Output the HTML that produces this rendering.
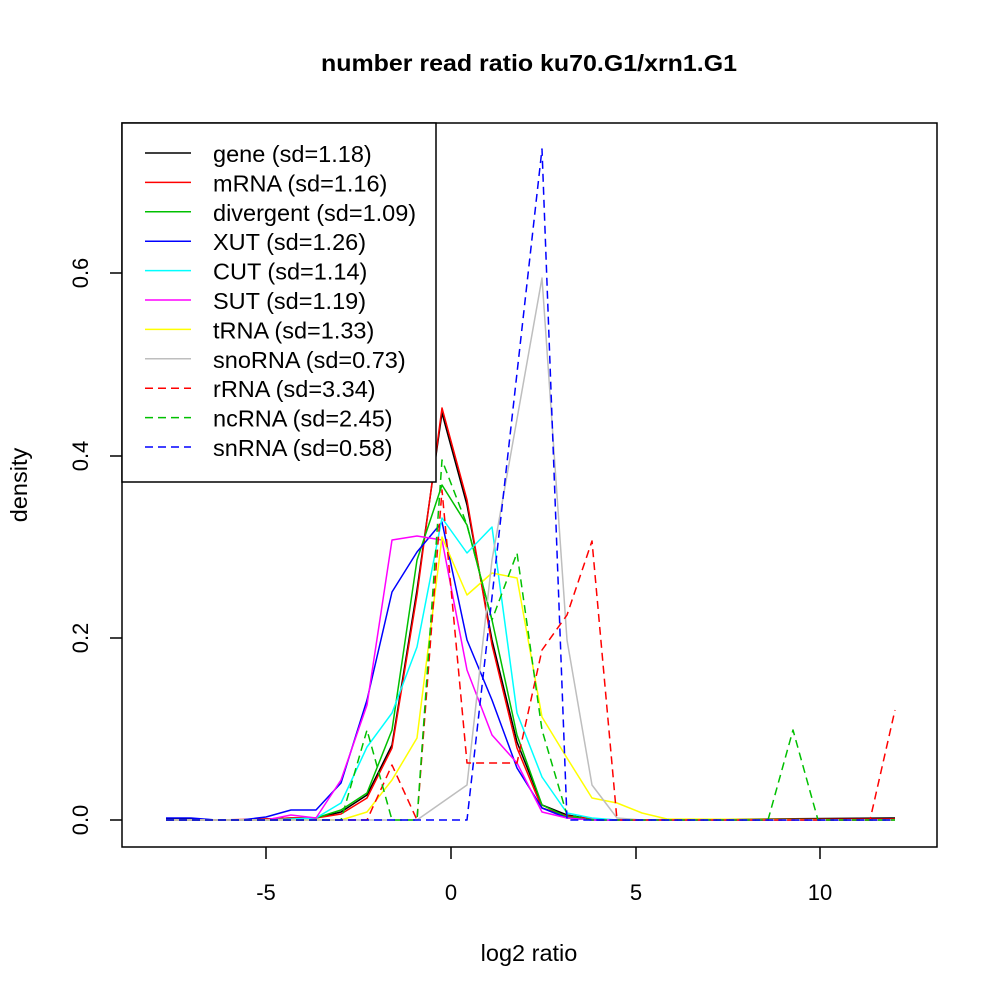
<!DOCTYPE html>
<html><head><style>html,body{margin:0;padding:0;background:#fff}</style></head>
<body>
<svg width="1000" height="1000" viewBox="0 0 1000 1000" xmlns="http://www.w3.org/2000/svg" font-family="Liberation Sans, sans-serif">
<rect width="1000" height="1000" fill="#fff"/>
<text x="529" y="71" font-size="23" font-weight="bold" text-anchor="middle" textLength="416" lengthAdjust="spacingAndGlyphs">number read ratio ku70.G1/xrn1.G1</text>
<g fill="none" stroke-width="1.5" stroke-linejoin="round">
<polyline stroke="#000" points="166,819 191,819 216,820 241,820 266,819 291,818 316,818 341,812 367,795 392,745 417,590 442,413 467,505 492,640 517,742 542,805 567,815 592,819 617,820 895,818"/>
<polyline stroke="#f00" points="166,820 216,820 266,819 291,818 316,818 341,814 367,798 392,748 417,595 442,408 467,500 492,645 517,748 542,808 567,816 592,819 617,820 895,819"/>
<polyline stroke="#00c000" points="166,820 266,820 316,818 341,810 367,793 392,730 417,560 442,485 467,525 492,620 517,735 542,805 567,817 592,820 895,820"/>
<polyline stroke="#00f" points="166,818 191,818 216,820 241,820 266,817 291,810 316,810 341,783 367,700 392,592 417,552 442,522 467,640 492,700 517,768 542,808 567,818 592,820 895,820"/>
<polyline stroke="#0ff" points="166,820 266,820 316,818 341,803 367,747 392,713 417,647 442,518 467,553 492,527 517,713 542,777 567,813 592,818 617,820 895,820"/>
<polyline stroke="#f0f" points="166,820 266,820 291,815 316,818 341,780 367,705 392,540 417,536 442,540 467,670 492,735 517,763 542,812 567,818 592,820 895,820"/>
<polyline stroke="#ff0" points="166,820 341,820 367,812 392,780 417,738 442,537 467,595 492,573 517,578 542,717 567,758 592,798 617,803 642,813 667,819 895,820"/>
<polyline stroke="#bebebe" points="166,820 417,820 467,785 492,560 542,278 567,640 592,785 617,818 642,820 895,820"/>
<g stroke-dasharray="8,5">
<polyline stroke="#f00" points="166,820 367,820 392,765 417,820 442,490 467,763 492,763 517,763 542,650 567,615 592,541 617,820 870,820 895,710"/>
<polyline stroke="#00c000" points="166,820 341,820 367,730 392,820 417,820 442,460 467,525 492,620 517,553 542,730 567,815 592,820 768,820 793,730 818,820 895,820"/>
<polyline stroke="#00f" points="166,820 467,820 492,597 542,149 567,820 895,820"/>
</g>
</g>
<rect x="122" y="123" width="815" height="724" fill="none" stroke="#000" stroke-width="1.5"/>
<rect x="122" y="123" width="314" height="359" fill="#fff" stroke="#000" stroke-width="1.5"/>
<g stroke-width="1.5">
<line x1="145" y1="153" x2="191" y2="153" stroke="#000"/>
<line x1="145" y1="182.4" x2="191" y2="182.4" stroke="#f00"/>
<line x1="145" y1="211.8" x2="191" y2="211.8" stroke="#00c000"/>
<line x1="145" y1="241.2" x2="191" y2="241.2" stroke="#00f"/>
<line x1="145" y1="270.6" x2="191" y2="270.6" stroke="#0ff"/>
<line x1="145" y1="300" x2="191" y2="300" stroke="#f0f"/>
<line x1="145" y1="329.4" x2="191" y2="329.4" stroke="#ff0"/>
<line x1="145" y1="358.8" x2="191" y2="358.8" stroke="#bebebe"/>
<g stroke-dasharray="8,5">
<line x1="145" y1="388.2" x2="191" y2="388.2" stroke="#f00"/>
<line x1="145" y1="417.6" x2="191" y2="417.6" stroke="#00c000"/>
<line x1="145" y1="447" x2="191" y2="447" stroke="#00f"/>
</g>
</g>
<g font-size="23.5">
<text x="213" y="162">gene (sd=1.18)</text>
<text x="213" y="191.4">mRNA (sd=1.16)</text>
<text x="213" y="220.8">divergent (sd=1.09)</text>
<text x="213" y="250.2">XUT (sd=1.26)</text>
<text x="213" y="279.6">CUT (sd=1.14)</text>
<text x="213" y="309">SUT (sd=1.19)</text>
<text x="213" y="338.4">tRNA (sd=1.33)</text>
<text x="213" y="367.8">snoRNA (sd=0.73)</text>
<text x="213" y="397.2">rRNA (sd=3.34)</text>
<text x="213" y="426.6">ncRNA (sd=2.45)</text>
<text x="213" y="456">snRNA (sd=0.58)</text>
</g>
<g stroke="#000" stroke-width="1.5">
<line x1="266" y1="847" x2="266" y2="859"/><line x1="451" y1="847" x2="451" y2="859"/>
<line x1="636" y1="847" x2="636" y2="859"/><line x1="820" y1="847" x2="820" y2="859"/>
<line x1="122" y1="820" x2="110" y2="820"/><line x1="122" y1="638" x2="110" y2="638"/>
<line x1="122" y1="456" x2="110" y2="456"/><line x1="122" y1="273" x2="110" y2="273"/>
</g>
<g font-size="22" text-anchor="middle">
<text x="266" y="900">-5</text><text x="451" y="900">0</text><text x="636" y="900">5</text><text x="820" y="900">10</text>
<text x="529" y="961" font-size="23.5">log2 ratio</text>
<text transform="translate(88,820) rotate(-90)">0.0</text>
<text transform="translate(88,638) rotate(-90)">0.2</text>
<text transform="translate(88,456) rotate(-90)">0.4</text>
<text transform="translate(88,273) rotate(-90)">0.6</text>
<text transform="translate(27,485) rotate(-90)" font-size="23.5">density</text>
</g>
</svg>
</body></html>
